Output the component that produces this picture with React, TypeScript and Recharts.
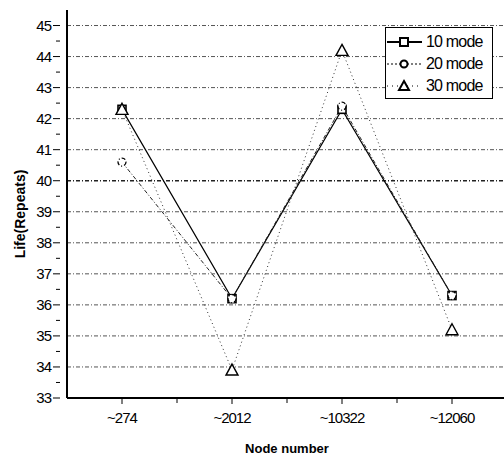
import React from 'react';
import { LineChart, Line, XAxis, YAxis, ReferenceLine } from 'recharts';

const nodes = ['~274', '~2012', '~10322', '~12060'];
const mode10 = [42.3, 36.2, 42.3, 36.3];
const mode20 = [40.6, 36.2, 42.4, 36.3];
const mode30 = [42.3, 33.9, 44.2, 35.2];
const yTicks = [33, 33.5, 34, 34.5, 35, 35.5, 36, 36.5, 37, 37.5, 38, 38.5, 39, 39.5, 40, 40.5, 41, 41.5, 42, 42.5, 43, 43.5, 44, 44.5, 45];
const gridValues = [34, 35, 36, 37, 38, 39, 40, 41, 42, 43, 44, 45];

const data = nodes.map((n, i) => ({ node: n, m10: mode10[i], m20: mode20[i], m30: mode30[i] }));

const font = '"Liberation Sans", Arial, sans-serif';

const Square = (props: any) => {
  const { cx, cy } = props;
  if (cx == null || cy == null) return null;
  return <rect x={cx - 4} y={cy - 4} width={8} height={8} fill="#fff" stroke="#000" strokeWidth={1.6} />;
};

const Triangle = (props: any) => {
  const { cx, cy } = props;
  if (cx == null || cy == null) return null;
  return (
    <path
      d={`M${cx},${cy - 6} L${cx + 6},${cy + 5} L${cx - 6},${cy + 5} Z`}
      fill="#fff"
      stroke="#000"
      strokeWidth={1.4}
    />
  );
};

const YTick = (props: any) => {
  const { x, y, payload } = props;
  const v = payload.value;
  const major = Number.isInteger(v);
  return (
    <g>
      <line x1={x + 1} x2={x - (major ? 6 : 3)} y1={y} y2={y} stroke="#000" strokeWidth={1} />
      {major && (
        <text x={x - 8} y={y} dy="0.35em" textAnchor="end" fontFamily={font} fontSize={15} letterSpacing={-1} fill="#000">
          {v}
        </text>
      )}
    </g>
  );
};

const XTick = (props: any) => {
  const { x, y, payload } = props;
  return (
    <g>
      <line x1={x} x2={x} y1={y} y2={y + 6} stroke="#000" strokeWidth={1} />
      <line x1={x + 55} x2={x + 55} y1={y} y2={y + 5} stroke="#000" strokeWidth={1} />
      <text x={x} y={y + 25} textAnchor="middle" fontFamily={font} fontSize={15} letterSpacing={-1} fill="#000">
        {payload.value}
      </text>
    </g>
  );
};

const LegendBox = () => {
  const rows = [
    { label: '10 mode', dash: undefined, mark: 'sq' },
    { label: '20 mode', dash: '2 2', mark: 'ci' },
    { label: '30 mode', dash: '1 4', mark: 'tr' },
  ];
  return (
    <div
      style={{
        position: 'absolute',
        left: 385,
        top: 27,
        width: 108,
        height: 72,
        border: '1px solid #000',
        background: '#fff',
        boxSizing: 'border-box',
        paddingTop: 3,
      }}
    >
      {rows.map((r) => (
        <div key={r.label} style={{ display: 'flex', alignItems: 'center', height: 22 }}>
          <svg width={38} height={16}>
            <line x1={1} x2={36} y1={8} y2={8} stroke="#000" strokeWidth={r.mark === 'sq' ? 2 : 1.2} strokeDasharray={r.dash} />
            {r.mark === 'sq' && <rect x={14} y={4} width={8} height={8} fill="#fff" stroke="#000" strokeWidth={2} />}
            {r.mark === 'ci' && <circle cx={18} cy={8} r={3.5} fill="#fff" stroke="#000" strokeWidth={2} />}
            {r.mark === 'tr' && <path d="M18,3 L23,12 L13,12 Z" fill="#fff" stroke="#000" strokeWidth={2} />}
          </svg>
          <span style={{ fontFamily: font, fontSize: 16, color: '#000', marginLeft: 2, letterSpacing: -0.8 }}>{r.label}</span>
        </div>
      ))}
    </div>
  );
};

export default function App() {
  return (
    <div style={{ position: 'absolute', left: 0, top: 0, width: 504, height: 459, overflow: 'hidden', background: '#fff' }}>
      <LineChart width={520} height={459} data={data} margin={{ top: 10, right: 13, left: 0, bottom: 0 }}>
        {gridValues.map((v) => (
          <ReferenceLine key={v} y={v} stroke={v === 40 ? '#222' : '#555'} strokeWidth={v === 40 ? 1.4 : 1} strokeDasharray="4 2 1 2" />
        ))}
        <XAxis
          dataKey="node"
          height={61}
          padding={{ left: 55, right: 55 }}
          axisLine={{ stroke: '#000', strokeWidth: 2 }}
          tickLine={false}
          tickSize={0}
          tickMargin={0}
          tick={<XTick />}
          label={{ value: 'Node number', position: 'insideBottom', offset: 6, fontFamily: font, fontSize: 13, fontWeight: 'bold', fill: '#000' }}
        />
        <YAxis
          domain={[33, 45.5]}
          ticks={yTicks}
          interval={0}
          width={67}
          allowDataOverflow
          axisLine={{ stroke: '#000', strokeWidth: 2 }}
          tickLine={false}
          tick={<YTick />}
          label={{ value: 'Life(Repeats)', angle: -90, position: 'insideLeft', offset: 20, dy: 10, fontFamily: font, fontSize: 14, fontWeight: 'bold', fill: '#000', style: { textAnchor: 'middle' } }}
        />
        <Line dataKey="m10" name="10 mode" stroke="#000" strokeWidth={1.2} dot={<Square />} isAnimationActive={false} />
        <Line dataKey="m20" name="20 mode" stroke="#222" strokeWidth={1} strokeDasharray="4 2 1 2" dot={{ r: 4, fill: '#fff', stroke: '#000', strokeWidth: 1.3 }} isAnimationActive={false} />
        <Line dataKey="m30" name="30 mode" stroke="#333" strokeWidth={1} strokeDasharray="1 3" dot={<Triangle />} isAnimationActive={false} />
      </LineChart>
      <LegendBox />
    </div>
  );
}
